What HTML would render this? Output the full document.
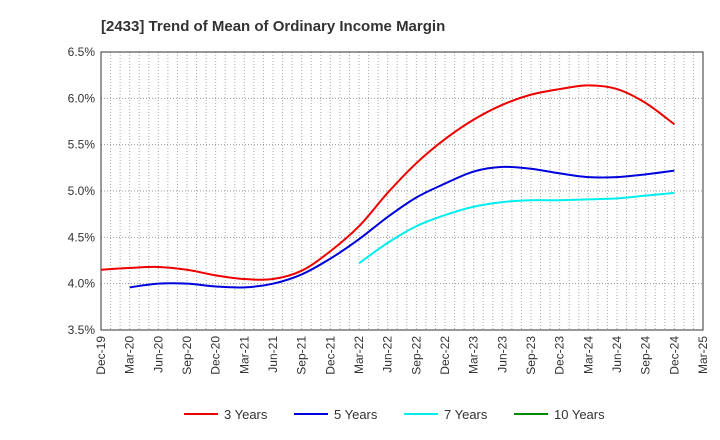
<!DOCTYPE html>
<html><head><meta charset="utf-8"><style>
body{margin:0;background:#fff;font-family:"Liberation Sans",Arial,sans-serif}
svg{display:block}
</style></head><body>
<svg id="chart" width="720" height="440" xmlns="http://www.w3.org/2000/svg">
<text x="101" y="31" font-size="15" font-weight="bold" fill="#333">[2433]  Trend of Mean of Ordinary Income Margin</text>
<g id="grid"></g><g id="axes"></g><g id="series"></g><g id="legend"></g>
</svg>
<script>
const xLabels=["Dec-19","Mar-20","Jun-20","Sep-20","Dec-20","Mar-21","Jun-21","Sep-21","Dec-21","Mar-22","Jun-22","Sep-22","Dec-22","Mar-23","Jun-23","Sep-23","Dec-23","Mar-24","Jun-24","Sep-24","Dec-24","Mar-25"];
const yTicks=[3.5,4.0,4.5,5.0,5.5,6.0,6.5];
const s3=[4.15,4.17,4.18,4.15,4.09,4.05,4.05,4.14,4.35,4.62,4.98,5.30,5.56,5.77,5.93,6.04,6.10,6.14,6.10,5.95,5.72];
const s5=[3.96,4.00,4.00,3.97,3.96,4.00,4.10,4.27,4.48,4.72,4.93,5.08,5.21,5.26,5.24,5.19,5.15,5.15,5.18,5.22];
const s7=[4.22,4.44,4.62,4.74,4.83,4.88,4.90,4.90,4.91,4.92,4.95,4.98];
const s10=[];
const start3=0,start5=1,start7=9,start10=0;
const L=101,R=703,T=52,B=330;
const NS="http://www.w3.org/2000/svg";
const x=i=>L+(R-L)*i/(xLabels.length-1);
const y=v=>B-(B-T)*(v-3.5)/(6.5-3.5);
function mk(t,a,p){const e=document.createElementNS(NS,t);for(const k in a)e.setAttribute(k,a[k]);p.appendChild(e);return e;}
const grid=document.getElementById('grid'),axes=document.getElementById('axes'),ser=document.getElementById('series'),leg=document.getElementById('legend');
const nm=(xLabels.length-1)*3;
for(let m=1;m<nm;m++){const xx=L+(R-L)*m/nm;const l=mk('line',{x1:xx,x2:xx,y1:T,y2:B,stroke:'#aaa','stroke-dasharray':'1,2','stroke-width':1},grid);

}
yTicks.forEach(v=>{if(v>3.5&&v<6.5){const l=mk('line',{x1:L,x2:R,y1:y(v),y2:y(v),stroke:'#999','stroke-dasharray':'1,2','stroke-width':1},grid);

}
const t=mk('text',{x:L-6,y:y(v)+4,'text-anchor':'end','font-size':12,fill:'#333'},axes);t.textContent=v.toFixed(1)+'%';

});
const fr=mk('rect',{x:L,y:T,width:R-L,height:B-T,fill:'none',stroke:'#333','stroke-width':1},axes);


xLabels.forEach((lb,i)=>{const t=mk('text',{transform:`translate(${x(i)+4},${B+6}) rotate(-90)`,'text-anchor':'end','font-size':12,fill:'#333'},axes);t.textContent=lb;

});
function path(vals,st){const p=vals.map((v,i)=>[x(st+i),y(v)]);if(!p.length)return '';let d=`M${p[0][0]},${p[0][1]}`;
for(let i=0;i<p.length-1;i++){const p0=p[i-1]||p[i],p1=p[i],p2=p[i+1],p3=p[i+2]||p2;
d+=` C${p1[0]+(p2[0]-p0[0])/6},${p1[1]+(p2[1]-p0[1])/6} ${p2[0]-(p3[0]-p1[0])/6},${p2[1]-(p3[1]-p1[1])/6} ${p2[0]},${p2[1]}`;}return d;}
const defs=[[s3,start3,'#ee0000','3 Years'],[s5,start5,'#0000dd','5 Years'],[s7,start7,'#00eeee','7 Years'],[s10,start10,'#008800','10 Years']];
defs.forEach(([v,st,c,n],k)=>{if(v.length){const p=mk('path',{d:path(v,st),fill:'none',stroke:c,'stroke-width':2},ser);

}
const lx=184+k*110;const g=mk('g',{},leg);


mk('line',{x1:lx,x2:lx+34,y1:414,y2:414,stroke:c,'stroke-width':2},g);
const t=mk('text',{x:lx+40,y:419,'font-size':13,fill:'#333'},g);t.textContent=n;});
</script>
</body></html>
